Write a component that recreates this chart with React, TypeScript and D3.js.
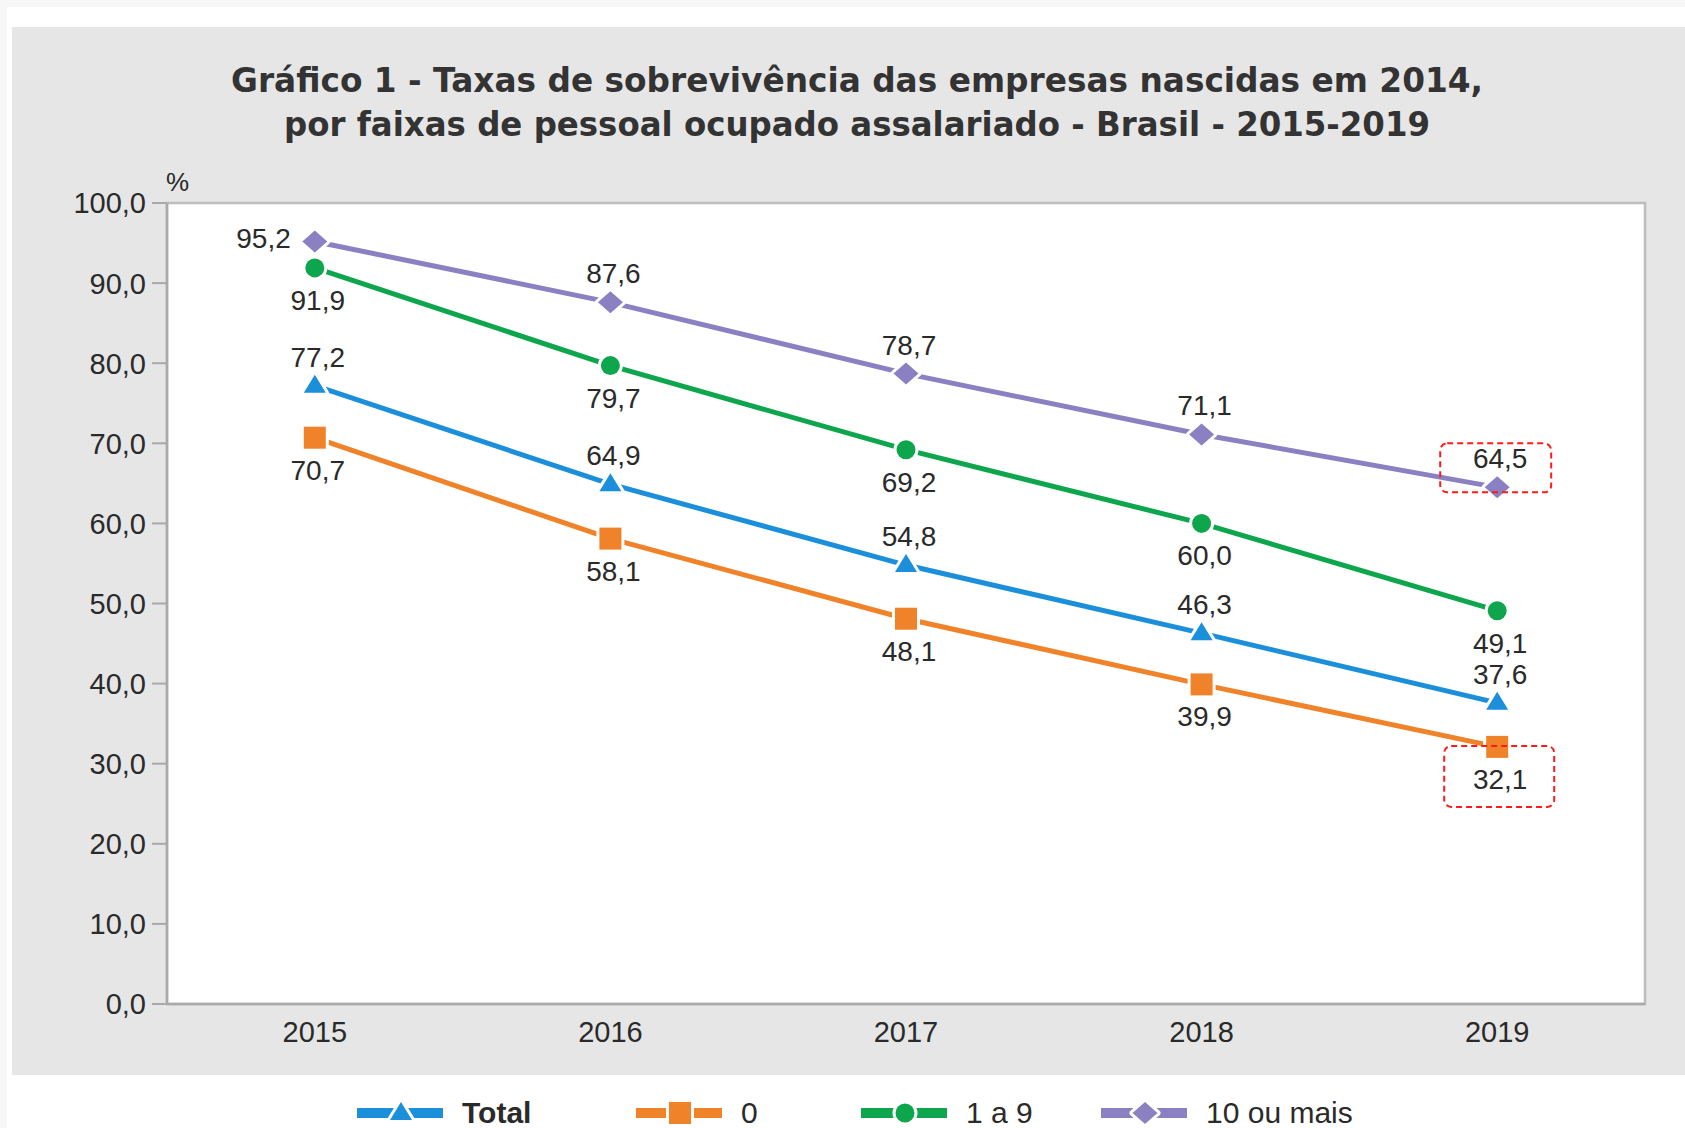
import React, { useEffect, useRef } from "react";
import * as d3 from "d3";

const years = ["2015", "2016", "2017", "2018", "2019"];
const totalValues = [77.2, 64.9, 54.8, 46.3, 37.6];
const zeroValues = [70.7, 58.1, 48.1, 39.9, 32.1];
const oneToNineValues = [91.9, 79.7, 69.2, 60.0, 49.1];
const tenPlusValues = [95.2, 87.6, 78.7, 71.1, 64.5];
const seriesNames = ["Total", "0", "1 a 9", "10 ou mais"];
const yTicks = [0, 10, 20, 30, 40, 50, 60, 70, 80, 90, 100];
const titleLines = [
  "Gráfico 1 - Taxas de sobrevivência das empresas nascidas em 2014,",
  "por faixas de pessoal ocupado assalariado - Brasil - 2015-2019",
];

const W = 1685;
const H = 1128;
const FONT = "'Liberation Sans', Arial, sans-serif";
const TEXT = "#2a2a2a";

type Shape = "triangle" | "square" | "circle" | "diamond";

const shapePath = (s: Shape, k = 1): string => {
  switch (s) {
    case "triangle":
      return `M0,${-11 * k}L${11 * k},${7 * k}L${-11 * k},${7 * k}Z`;
    case "square":
      return `M${-11 * k},${-11 * k}h${22 * k}v${22 * k}h${-22 * k}Z`;
    case "circle":
      return d3.symbol(d3.symbolCircle, Math.PI * 9.5 * 9.5 * k * k)() as string;
    case "diamond":
      return `M0,${-11 * k}L${12.5 * k},0L0,${11 * k}L${-12.5 * k},0Z`;
  }
};

export default function App() {
  const ref = useRef<SVGSVGElement | null>(null);

  useEffect(() => {
    document.body.style.margin = "0";
    const svg = d3.select(ref.current);
    svg.selectAll("*").remove();

    const series = [
      { name: seriesNames[0], values: totalValues, color: "#1c8fdb", shape: "triangle" as Shape, pos: ["above", "above", "above", "above", "above"] },
      { name: seriesNames[1], values: zeroValues, color: "#f0832a", shape: "square" as Shape, pos: ["below", "below", "below", "below", "below"] },
      { name: seriesNames[2], values: oneToNineValues, color: "#0ea64c", shape: "circle" as Shape, pos: ["below", "below", "below", "below", "below"] },
      { name: seriesNames[3], values: tenPlusValues, color: "#8b80c1", shape: "diamond" as Shape, pos: ["left", "above", "above", "above", "above"] },
    ];

    // background
    svg.append("rect").attr("x", 0).attr("y", 0).attr("width", W).attr("height", H).attr("fill", "#ffffff");
    svg.append("rect").attr("x", 0).attr("y", 0).attr("width", W).attr("height", 7).attr("fill", "#f7f7f7");
    svg.append("rect").attr("x", 0).attr("y", 0).attr("width", 7).attr("height", H).attr("fill", "#f7f7f7");
    svg.append("rect").attr("x", 12).attr("y", 27).attr("width", W - 12).attr("height", 1075 - 27).attr("fill", "#e6e6e6");

    const left = 167, right = 1645, top = 203, bottom = 1004;
    const x = d3.scalePoint<string>().domain(years).range([left, right]).padding(0.5);
    const y = d3.scaleLinear().domain([0, 100]).range([bottom, top]);

    // plot area
    svg.append("rect").attr("x", left).attr("y", top).attr("width", right - left).attr("height", bottom - top)
      .attr("fill", "#ffffff").attr("stroke", "#bdbdbd").attr("stroke-width", 2.5);

    // title
    const titleWidths = [1252, 1146];
    titleLines.forEach((t, i) => {
      svg.append("text").attr("x", 857).attr("y", 92 + i * 44).attr("text-anchor", "middle")
        .attr("font-family", "'DejaVu Sans', Verdana, sans-serif").attr("font-weight", "bold").attr("font-size", 33).attr("fill", "#333")
        .attr("textLength", titleWidths[i]).attr("lengthAdjust", "spacingAndGlyphs")
        .text(t);
    });

    // y axis ticks and labels
    const axisColor = "#a9a9a9";
    yTicks.forEach((v) => {
      svg.append("line").attr("x1", left - 15).attr("x2", left).attr("y1", y(v)).attr("y2", y(v))
        .attr("stroke", axisColor).attr("stroke-width", 2);
      svg.append("text").attr("x", left - 21).attr("y", y(v)).attr("dy", "0.36em").attr("text-anchor", "end")
        .attr("font-family", FONT).attr("font-size", 29).attr("fill", TEXT)
        .text(d3.format(".1f")(v).replace(".", ","));
    });
    svg.append("line").attr("x1", left).attr("x2", left).attr("y1", top).attr("y2", bottom).attr("stroke", axisColor).attr("stroke-width", 2.5);
    svg.append("line").attr("x1", left).attr("x2", right).attr("y1", bottom).attr("y2", bottom).attr("stroke", axisColor).attr("stroke-width", 2.5);

    svg.append("text").attr("x", 166).attr("y", 191).attr("font-family", FONT).attr("font-size", 26).attr("fill", TEXT).text("%");

    // x labels
    years.forEach((yr) => {
      svg.append("text").attr("x", x(yr)!).attr("y", 1042).attr("text-anchor", "middle")
        .attr("font-family", FONT).attr("font-size", 29).attr("fill", TEXT).text(yr);
    });

    // lines
    const lineGen = d3.line<number>().x((_, i) => x(years[i])!).y((d) => y(d));
    series.forEach((s) => {
      svg.append("path").attr("d", lineGen(s.values)).attr("fill", "none").attr("stroke", s.color).attr("stroke-width", 5);
    });
    series.forEach((s) => {
      s.values.forEach((v, i) => {
        svg.append("path").attr("d", shapePath(s.shape)).attr("transform", `translate(${x(years[i])},${y(v)})`)
          .attr("fill", s.color).attr("stroke", "#ffffff").attr("stroke-width", 6)
          .attr("paint-order", "stroke").attr("stroke-linejoin", "round");
      });
    });

    // data labels
    series.forEach((s) => {
      s.values.forEach((v, i) => {
        const px = x(years[i])!, py = y(v);
        const p = s.pos[i];
        const t = svg.append("text").attr("font-family", FONT).attr("font-size", 28).attr("fill", TEXT)
          .text(d3.format(".1f")(v).replace(".", ","));
        if (p === "left") t.attr("x", px - 24).attr("y", py + 7).attr("text-anchor", "end");
        else if (p === "above") t.attr("x", px + 3).attr("y", py - 19).attr("text-anchor", "middle");
        else t.attr("x", px + 3).attr("y", py + 42).attr("text-anchor", "middle");
      });
    });

    // highlight boxes
    const lastYear = years[years.length - 1];
    const bx = x(lastYear)!;
    const b1y = y(tenPlusValues[tenPlusValues.length - 1]);
    const b2y = y(zeroValues[zeroValues.length - 1]);
    [[bx - 57, b1y - 44, 111, 49], [bx - 53, b2y - 1, 110, 61]].forEach(([rx, ry, rw, rh]) => {
      svg.append("rect").attr("x", rx).attr("y", ry).attr("width", rw).attr("height", rh).attr("rx", 7)
        .attr("fill", "none").attr("stroke", "#ff1a1a").attr("stroke-width", 2).attr("stroke-dasharray", "6,4");
    });

    // legend
    const legendX = [357, 636, 861, 1101];
    const ly = 1113;
    series.forEach((s, i) => {
      const lx = legendX[i];
      svg.append("rect").attr("x", lx).attr("y", ly - 5).attr("width", 86).attr("height", 10).attr("fill", s.color);
      svg.append("path").attr("d", shapePath(s.shape)).attr("transform", `translate(${lx + 44},${ly})`)
        .attr("fill", s.color).attr("stroke", "#ffffff").attr("stroke-width", 6)
        .attr("paint-order", "stroke").attr("stroke-linejoin", "round");
      svg.append("text").attr("x", lx + 105).attr("y", 1123).attr("font-family", FONT).attr("font-size", 30)
        .attr("font-weight", i === 0 ? "bold" : "normal").attr("fill", TEXT).text(s.name);
    });
  }, []);

  return <svg ref={ref} width={W} height={H} style={{ position: "absolute", left: 0, top: 0, display: "block" }} />;
}
